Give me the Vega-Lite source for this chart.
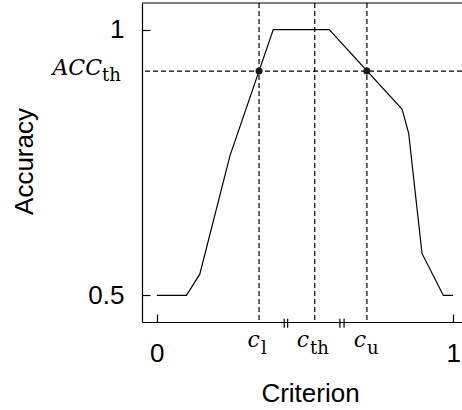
{
  "$schema": "https://vega.github.io/schema/vega-lite/v6.json",
  "width": 320,
  "height": 319,
  "autosize": {"type": "none"},
  "padding": {"left": 142, "top": 3, "right": 0, "bottom": 88},
  "background": "white",
  "config": {
    "view": {"stroke": null},
    "axis": {
      "domainColor": "black",
      "domainWidth": 1.2,
      "tickColor": "black",
      "tickWidth": 1.2,
      "tickSize": -8,
      "grid": false,
      "labelFont": "Liberation Sans",
      "labelFontSize": 26,
      "labelColor": "black",
      "titleFont": "Liberation Sans",
      "titleFontSize": 26,
      "titleFontWeight": "normal",
      "titleColor": "black"
    }
  },
  "datasets": {
    "curve": [
      {"criterion": 0.0, "accuracy": 0.5},
      {"criterion": 0.1, "accuracy": 0.5},
      {"criterion": 0.145, "accuracy": 0.54},
      {"criterion": 0.247, "accuracy": 0.763},
      {"criterion": 0.393, "accuracy": 1.0},
      {"criterion": 0.582, "accuracy": 1.0},
      {"criterion": 0.828, "accuracy": 0.85},
      {"criterion": 0.85, "accuracy": 0.805},
      {"criterion": 0.895, "accuracy": 0.579},
      {"criterion": 0.967, "accuracy": 0.5},
      {"criterion": 1.0, "accuracy": 0.5}
    ],
    "cuts": [
      {"name": "l", "c": 0.345, "lx": 0.348},
      {"name": "th", "c": 0.533, "lx": 0.514},
      {"name": "u", "c": 0.709, "lx": 0.706}
    ],
    "dots": [
      {"c": 0.345, "acc": 0.922},
      {"c": 0.709, "acc": 0.922}
    ],
    "breaks": [
      {"b": 0.43},
      {"b": 0.4416},
      {"b": 0.618},
      {"b": 0.632}
    ],
    "thr": [
      {"acc": 0.922, "label": "ACC", "sub": "th"}
    ]
  },
  "layer": [
    {
      "data": {"name": "curve"},
      "mark": {"type": "line", "color": "black", "strokeWidth": 1.2},
      "encoding": {
        "x": {
          "field": "criterion",
          "type": "quantitative",
          "scale": {"domain": [-0.05, 1.03], "nice": false, "zero": false},
          "axis": {
            "values": [0, 1],
            "format": "~g",
            "labelPadding": 26,
            "title": "Criterion",
            "titleX": 168,
            "titleY": 79,
            "titleAlign": "center",
            "titleBaseline": "alphabetic"
          }
        },
        "y": {
          "field": "accuracy",
          "type": "quantitative",
          "scale": {"domain": [0.45, 1.05], "nice": false, "zero": false},
          "axis": {
            "values": [0.5, 1],
            "format": "~g",
            "labelPadding": 26,
            "title": "Accuracy",
            "titleX": -110,
            "titleY": 158,
            "titleAngle": -90,
            "titleAlign": "center",
            "titleBaseline": "alphabetic"
          }
        }
      }
    },
    {
      "data": {"name": "cuts"},
      "mark": {"type": "rule", "color": "black", "strokeWidth": 1.2, "strokeDash": [5, 3]},
      "encoding": {
        "x": {"field": "c", "type": "quantitative"}
      }
    },
    {
      "data": {"name": "thr"},
      "mark": {"type": "rule", "color": "black", "strokeWidth": 1.2, "strokeDash": [5, 3]},
      "encoding": {
        "y": {"field": "acc", "type": "quantitative"}
      }
    },
    {
      "data": {"values": [{}]},
      "mark": {"type": "rule", "color": "black", "strokeWidth": 1.2},
      "encoding": {
        "y": {"datum": 1.05, "type": "quantitative"}
      }
    },
    {
      "data": {"name": "dots"},
      "mark": {"type": "point", "filled": true, "color": "#1a1a1a", "opacity": 1, "size": 50},
      "encoding": {
        "x": {"field": "c", "type": "quantitative"},
        "y": {"field": "acc", "type": "quantitative"}
      }
    },
    {
      "data": {"name": "breaks"},
      "mark": {"type": "rule", "color": "black", "strokeWidth": 1.2},
      "encoding": {
        "x": {"field": "b", "type": "quantitative"},
        "y": {"datum": 0.456, "type": "quantitative"},
        "y2": {"datum": 0.439}
      }
    },
    {
      "data": {"name": "cuts"},
      "mark": {"type": "text", "text": "c", "font": "DejaVu Serif", "fontStyle": "italic", "fontSize": 22, "align": "right", "baseline": "alphabetic", "dy": 25, "color": "black"},
      "encoding": {
        "x": {"field": "lx", "type": "quantitative"},
        "y": {"datum": 0.45, "type": "quantitative"}
      }
    },
    {
      "data": {"name": "cuts"},
      "mark": {"type": "text", "font": "DejaVu Serif", "fontSize": 18, "align": "left", "baseline": "alphabetic", "dx": 1, "dy": 32, "color": "black"},
      "encoding": {
        "x": {"field": "lx", "type": "quantitative"},
        "y": {"datum": 0.45, "type": "quantitative"},
        "text": {"field": "name"}
      }
    },
    {
      "data": {"name": "thr"},
      "mark": {"type": "text", "font": "DejaVu Serif", "fontStyle": "italic", "fontSize": 22, "align": "right", "baseline": "alphabetic", "dx": -40, "dy": 4, "color": "black"},
      "encoding": {
        "x": {"datum": -0.05, "type": "quantitative"},
        "y": {"field": "acc", "type": "quantitative"},
        "text": {"field": "label"}
      }
    },
    {
      "data": {"name": "thr"},
      "mark": {"type": "text", "font": "DejaVu Serif", "fontSize": 18, "align": "left", "baseline": "alphabetic", "dx": -40, "dy": 10, "color": "black"},
      "encoding": {
        "x": {"datum": -0.05, "type": "quantitative"},
        "y": {"field": "acc", "type": "quantitative"},
        "text": {"field": "sub"}
      }
    }
  ]
}
